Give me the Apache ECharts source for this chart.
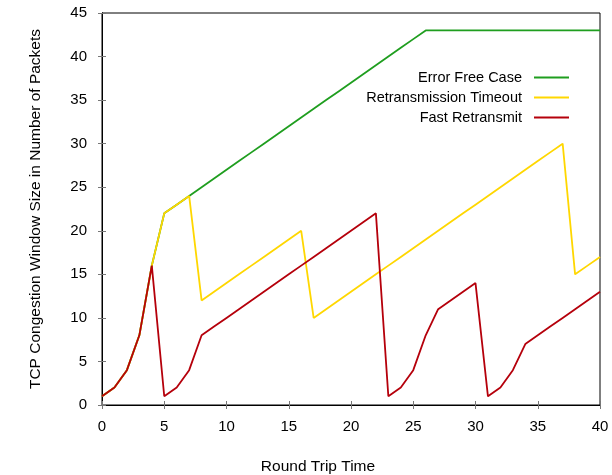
<!DOCTYPE html>
<html lang="en">

<head>
    <meta charset="UTF-8">
    <title>TCP Congestion Window</title>
    <style>
        * {
            padding: 0;
            margin: 0;
        }
    </style>
</head>

<body>
    <div id="chart" style="width: 612px; height: 475px;"></div>
    <script src="https://cdn.jsdelivr.net/npm/echarts@6/dist/echarts.min.js"></script>
    <script>
        // round trip time 0..40
        const rounds = [0, 1, 2, 3, 4, 5, 6, 7, 8, 9, 10, 11, 12, 13, 14, 15, 16, 17, 18, 19, 20,
            21, 22, 23, 24, 25, 26, 27, 28, 29, 30, 31, 32, 33, 34, 35, 36, 37, 38, 39, 40]
        const errorFree = [1, 2, 4, 8, 16, 22, 23, 24, 25, 26, 27, 28, 29, 30, 31, 32, 33, 34, 35, 36, 37,
            38, 39, 40, 41, 42, 43, 43, 43, 43, 43, 43, 43, 43, 43, 43, 43, 43, 43, 43, 43]
        const timeout = [1, 2, 4, 8, 16, 22, 23, 24, 12, 13, 14, 15, 16, 17, 18, 19, 20, 10, 11, 12, 13,
            14, 15, 16, 17, 18, 19, 20, 21, 22, 23, 24, 25, 26, 27, 28, 29, 30, 15, 16, 17]
        const fastRetransmit = [1, 2, 4, 8, 16, 1, 2, 4, 8, 9, 10, 11, 12, 13, 14, 15, 16, 17, 18, 19, 20,
            21, 22, 1, 2, 4, 8, 11, 12, 13, 14, 1, 2, 4, 7, 8, 9, 10, 11, 12, 13]
        const yTicks = [0, 5, 10, 15, 20, 25, 30, 35, 40, 45]

        const font = 'Liberation Sans, Arial, sans-serif'
        const pairs = arr => rounds.map((x, i) => [x, arr[i]])

        let mychart = echarts.init(document.getElementById('chart'))

        // gnuplot style: ticks inside, mirrored on top and right
        const tick = {
            show: true,
            inside: true,
            length: 4,
            lineStyle: { color: '#777' }
        }

        let options = {
            backgroundColor: '#fff',
            animation: false,
            grid: {
                left: 102,
                right: 12,
                top: 13,
                bottom: 70,
                outerBoundsMode: 'none',
                show: true,
                borderColor: '#000',
                borderWidth: 1
            },
            legend: {
                orient: 'vertical',
                align: 'right',
                right: 38,
                top: 65,
                itemWidth: 35,
                itemHeight: 2,
                itemGap: 5,
                icon: 'rect',
                textStyle: {
                    fontFamily: font,
                    fontSize: 14.5,
                    color: '#000',
                    padding: [0, 7, 0, 0]
                },
                data: ['Error Free Case', 'Retransmission Timeout', 'Fast Retransmit']
            },
            xAxis: [{
                type: 'value',
                min: 0,
                max: 40,
                interval: 5,
                name: 'Round Trip Time',
                nameLocation: 'middle',
                nameGap: 54,
                nameTextStyle: { fontFamily: font, fontSize: 15.5, color: '#000', padding: [0, 66, 0, 0] },
                axisLine: { lineStyle: { color: '#000' } },
                axisTick: tick,
                axisLabel: { fontFamily: font, fontSize: 15, color: '#000', margin: 14 },
                splitLine: { show: false }
            }, {
                type: 'value',
                position: 'top',
                min: 0,
                max: 40,
                interval: 5,
                axisLine: { lineStyle: { color: '#000' } },
                axisTick: tick,
                axisLabel: { show: false },
                splitLine: { show: false }
            }],
            yAxis: [{
                type: 'value',
                min: 0,
                max: 45,
                interval: 5,
                name: 'TCP Congestion Window Size in Number of Packets',
                nameLocation: 'middle',
                nameGap: 58,
                nameTextStyle: { fontFamily: font, fontSize: 15.5, color: '#000' },
                axisLine: { show: true, lineStyle: { color: '#000' } },
                axisTick: tick,
                axisLabel: {
                    fontFamily: font, fontSize: 15, color: '#000', margin: 15,
                    padding: [5, 0, 0, 0],
                    formatter: v => yTicks.includes(v) ? String(v) : ''
                },
                splitLine: { show: false }
            }, {
                type: 'value',
                position: 'right',
                min: 0,
                max: 45,
                interval: 5,
                axisLine: { show: true, lineStyle: { color: '#000' } },
                axisTick: tick,
                axisLabel: { show: false },
                splitLine: { show: false }
            }],
            series: [{
                name: 'Error Free Case',
                type: 'line',
                symbol: 'none',
                color: '#1f9e1f',
                lineStyle: { width: 1.8 },
                data: pairs(errorFree)
            }, {
                name: 'Retransmission Timeout',
                type: 'line',
                symbol: 'none',
                color: '#ffd700',
                lineStyle: { width: 1.8 },
                data: pairs(timeout)
            }, {
                name: 'Fast Retransmit',
                type: 'line',
                symbol: 'none',
                color: '#b5000b',
                lineStyle: { width: 1.8 },
                data: pairs(fastRetransmit)
            }]
        }

        mychart.setOption(options);
    </script>
</body>

</html>
